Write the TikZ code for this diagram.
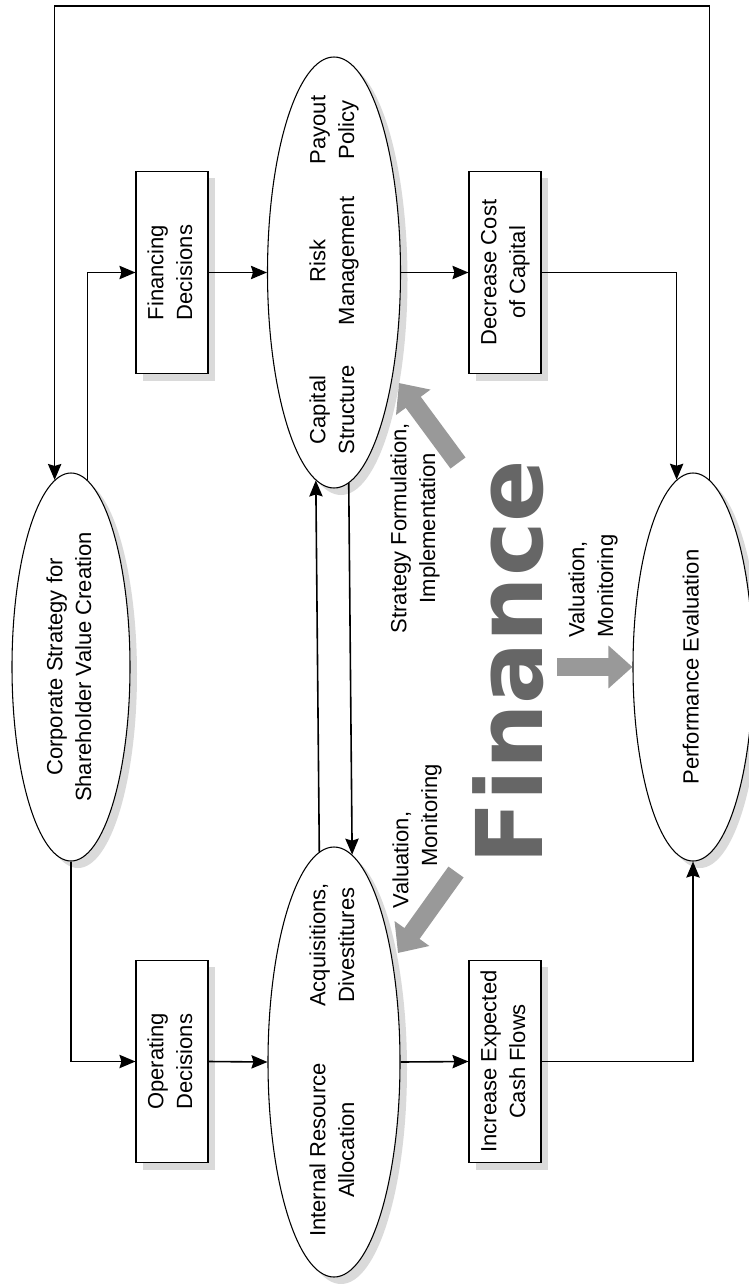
\documentclass[tikz,border=0pt]{standalone}
\usepackage{fontspec}
\setmainfont{Liberation Sans}
\newfontfamily\finfont{DejaVu Sans}
\usepackage{graphicx}
\usetikzlibrary{shapes.geometric,arrows.meta}

\definecolor{arrowgray}{HTML}{999999}
\definecolor{fingray}{HTML}{666666}
\definecolor{shadowgray}{HTML}{DADADA}

% rotated (bottom-to-top) multi-line text
\newcommand{\uptext}[2][c]{\rotatebox{90}{\begin{tabular}{@{}#1@{}}#2\end{tabular}}}

\tikzset{
  every node/.style={font=\fontsize{16.5}{21.5}\selectfont, inner sep=0pt},
  decision/.style={draw, fill=white, line width=0.8pt, minimum width=54pt, minimum height=152pt},
  bubble/.style={ellipse, draw, fill=white, line width=0.8pt},
  flow/.style={line width=1.2pt, -{Stealth[length=12pt,width=10pt,inset=1.5pt]}},
  bigarrow/.style={arrowgray, line width=14pt, -{Triangle[length=18pt,width=31pt]}},
}

\begin{document}
\begin{tikzpicture}[x=0.75pt,y=0.75pt,yscale=-1,xscale=1]
\useasboundingbox (0,0) rectangle (749,1284);

% Shadows
\foreach \cx/\cy in {172/272.5, 505/272.5, 172/1061.5, 505/1061.5}
  \fill[shadowgray] (\cx-29,\cy-94.5) rectangle (\cx+43,\cy+108.5);
\foreach \cx/\cy/\rx/\ry in {71/667/59/194, 334/272.5/66.5/215.5, 334/1062/66/215, 693/667/60/194}
  \fill[shadowgray] (\cx+7,\cy+7) ellipse [x radius=\rx, y radius=\ry];

% Ellipses
\node[bubble, minimum width=88.5pt, minimum height=291pt] (corp) at (71,667) {\uptext{Corporate Strategy for\\Shareholder Value Creation}};
\node[bubble, minimum width=99.75pt, minimum height=323.25pt] (cap) at (334,272.5) {};
\node[bubble, minimum width=99pt, minimum height=322.5pt] (alloc) at (334,1062) {};
\node[bubble, minimum width=90pt, minimum height=291pt] (perf) at (693,667) {\uptext{Performance Evaluation}};

% Boxes
\node[decision] (fin) at (172,272.5) {\uptext{Financing\\Decisions}};
\node[decision] (dec) at (505,272.5) {\uptext{Decrease Cost\\of Capital}};
\node[decision] (oper) at (172,1061.5) {\uptext{Operating\\Decisions}};
\node[decision] (incr) at (505,1061.5) {\uptext{Increase Expected\\Cash Flows}};

% Text inside the middle ellipses
\node (payout) at (334,130) {\uptext{Payout\\Policy}};
\node (risk) at (334,261) {\uptext{Risk\\Management}};
\node (capstruct) at (334,410) {\uptext{Capital\\Structure}};
\node (acq) at (334,945) {\uptext{Acquisitions,\\Divestitures}};
\node (internal) at (334,1150) {\uptext{Internal Resource\\Allocation}};

% Finance
\node[font=\finfont\bfseries\fontsize{69}{69}\selectfont, text=fingray, rotate=90, anchor=base] (finance) at (542,662) {Finance};

% Gray annotations
\node (stratlab) at (415,528) {\uptext{Strategy Formulation,\\Implementation}};
\node (valright) at (593,586) {\uptext[l]{Valuation,\\Monitoring}};
\node (valleft) at (417,836) {\uptext[l]{Valuation,\\\hspace*{31pt}Monitoring}};

\coordinate (sftail) at (458,463);
\coordinate (sftip) at (399,383);
\draw[bigarrow] (sftail) -- (sftip);
\coordinate (vltail) at (456,872);
\coordinate (vltip) at (398,953);
\draw[bigarrow] (vltail) -- (vltip);
\coordinate (vrtail) at (557,667);
\draw[bigarrow] (vrtail) -- (perf.west);

% Connectors
\draw[flow] (corp.85) |- (fin.west);
\draw[flow] (fin.east) -- (cap.west);
\draw[flow] (cap.east) -- (dec.west);
\draw[flow] (dec.east) -| (perf.95);
\draw[flow] (corp.south) |- (oper.west);
\draw[flow] (oper.east) -- (alloc.west);
\draw[flow] (alloc.east) -- (incr.west);
\draw[flow] (incr.east) -| (perf.south);
\draw[flow] (alloc.94.4) -- (cap.265.6);
\draw[flow] (cap.274.7) -- (alloc.85.3);
\coordinate (frametop) at (0,6);
\draw[flow] (perf.85) -- (perf.85 |- frametop) -| (corp.95);

\end{tikzpicture}
\end{document}
